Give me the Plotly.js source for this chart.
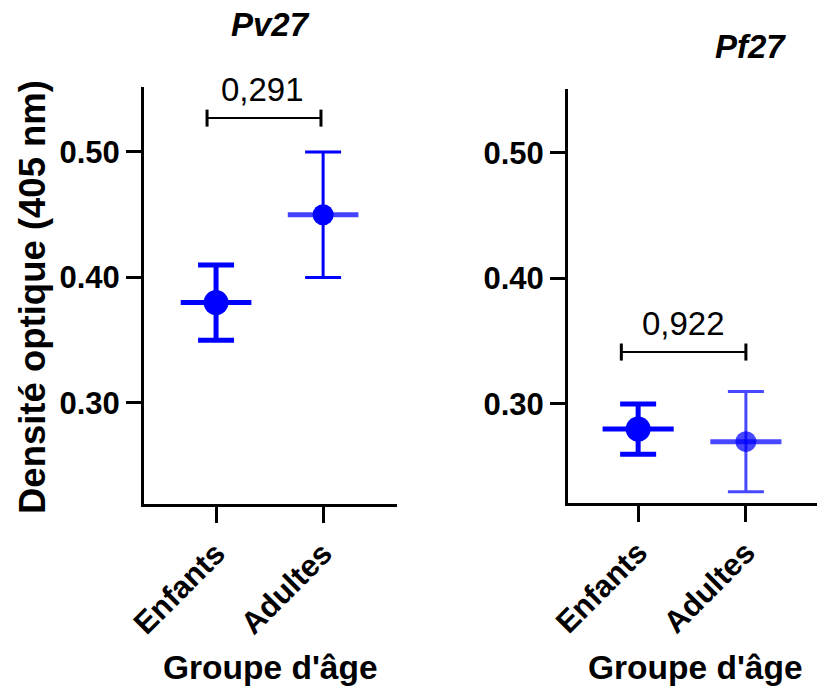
<!DOCTYPE html>
<html>
<head>
<meta charset="utf-8">
<script src="https://cdn.plot.ly/plotly-3.0.1.min.js"></script>
<style>html,body{margin:0;padding:0;background:#fff;}#chart{width:817px;height:692px;}</style>
</head>
<body>
<div id="chart"></div>
<script>
// ---- data ----
const groups = ['Enfants', 'Adultes'];
const pv27Mean = [0.38, 0.45];
const pv27Low  = [0.35, 0.40];
const pv27High = [0.41, 0.50];
const pf27Mean = [0.28, 0.27];
const pf27Low  = [0.26, 0.23];
const pf27High = [0.30, 0.31];
const panelTitles = ['Pv27', 'Pf27'];
const pValues = ['0,291', '0,922'];
const bracketLevels = [0.527, 0.3414];
const yTicks = [0.30, 0.40, 0.50];
const yTitle = 'Densité optique (405 nm)';
const xTitle = "Groupe d'âge";

const FONT = 'Arial, "Liberation Sans", sans-serif';
const idx = groups.map((g, i) => i);

function makeTrace(means, lows, highs, i, xa, ya, style) {
  return {
    type: 'scatter', mode: 'markers',
    x: [idx[i]], y: [means[i]],
    xaxis: xa, yaxis: ya,
    marker: {color: style.marker, size: style.size, line: {width: 0}},
    error_y: {type: 'data', symmetric: false,
      array: [highs[i] - means[i]], arrayminus: [means[i] - lows[i]],
      color: style.ebar, thickness: style.ethick, width: 18},
    error_x: {type: 'constant', value: style.meanHalf, color: style.meanColor,
      thickness: 5, width: 0},
    showlegend: false, hoverinfo: 'skip'
  };
}

const dark = {marker: '#0000ff', size: 25, ebar: '#0000ff', ethick: 5, meanHalf: 0.33, meanColor: '#0000ff'};
const adLeft = {marker: '#0000ff', size: 21, ebar: '#0000ff', ethick: 3, meanHalf: 0.33, meanColor: '#4444ff'};
const adRight = {marker: 'rgba(0,0,255,0.72)', size: 21, ebar: 'rgba(0,0,255,0.72)', ethick: 3, meanHalf: 0.33, meanColor: 'rgba(0,0,255,0.72)'};

const data = [
  makeTrace(pv27Mean, pv27Low, pv27High, 0, 'x', 'y', dark),
  makeTrace(pv27Mean, pv27Low, pv27High, 1, 'x', 'y', adLeft),
  makeTrace(pf27Mean, pf27Low, pf27High, 0, 'x2', 'y2', dark),
  makeTrace(pf27Mean, pf27Low, pf27High, 1, 'x2', 'y2', adRight)
];

const xBase = {
  tickmode: 'array', tickvals: idx, ticktext: groups, tickangle: -45,
  showgrid: false, zeroline: false, showline: true, linecolor: '#000', linewidth: 3,
  ticks: 'outside', ticklen: 16, tickwidth: 3, tickcolor: '#000',
  tickfont: {family: FONT, size: 31, color: '#000', weight: 'bold'}
};
const yBase = {
  tickmode: 'array', tickvals: yTicks, tickformat: '.2f',
  showgrid: false, zeroline: false, showline: true, linecolor: '#000', linewidth: 3,
  ticks: 'outside', ticklen: 15, tickwidth: 3, tickcolor: '#000',
  tickfont: {family: FONT, size: 31, color: '#000', weight: 'bold'}
};

function bracket(xa, ya, x0, x1, yl) {
  const h = 0.0068;
  const ln = {color: '#000', width: 2};
  return [
    {type: 'line', xref: xa, yref: ya, x0: x0, x1: x1, y0: yl, y1: yl, line: ln},
    {type: 'line', xref: xa, yref: ya, x0: x0, x1: x0, y0: yl - h, y1: yl + h, line: {color: '#000', width: 3}},
    {type: 'line', xref: xa, yref: ya, x0: x1, x1: x1, y0: yl - h, y1: yl + h, line: {color: '#000', width: 3}}
  ];
}

const layout = {
  width: 817, height: 692,
  margin: {l: 0, r: 0, t: 0, b: 0},
  paper_bgcolor: '#fff', plot_bgcolor: 'rgba(0,0,0,0)',
  xaxis: Object.assign({}, xBase, {domain: [0.17625, 0.48592], range: [-0.673, 1.69], anchor: 'y'}),
  yaxis: Object.assign({}, yBase, {domain: [0.27168, 0.87428], range: [0.2195, 0.5518], anchor: 'x'}),
  xaxis2: Object.assign({}, xBase, {domain: [0.69523, 1], range: [-0.651, 1.66], anchor: 'y2'}),
  yaxis2: Object.assign({}, yBase, {domain: [0.27312, 0.87139], range: [0.2211, 0.551], anchor: 'x2'}),
  shapes: [].concat(
    bracket('x', 'y', -0.084, 0.98, bracketLevels[0]),
    bracket('x2', 'y2', -0.156, 1.0, bracketLevels[1])
  ),
  annotations: [
    {xref: 'x', yref: 'y', x: 0.43, y: bracketLevels[0], yanchor: 'bottom', yshift: 8, showarrow: false,
     text: pValues[0], font: {family: FONT, size: 33, color: '#000'}},
    {xref: 'x2', yref: 'y2', x: 0.42, y: bracketLevels[1], yanchor: 'bottom', yshift: 8, showarrow: false,
     text: pValues[1], font: {family: FONT, size: 33, color: '#000'}},
    {xref: 'paper', yref: 'paper', x: 0.3305, y: 0.9653, xanchor: 'center', yanchor: 'middle', showarrow: false,
     text: '<b><i>' + panelTitles[0] + '</i></b>', font: {family: FONT, size: 33, color: '#000'}},
    {xref: 'paper', yref: 'paper', x: 0.9192, y: 0.9335, xanchor: 'center', yanchor: 'middle', showarrow: false,
     text: '<b><i>' + panelTitles[1] + '</i></b>', font: {family: FONT, size: 33, color: '#000'}},
    {xref: 'paper', yref: 'paper', x: 0.0392, y: 0.5708, xanchor: 'center', yanchor: 'middle', showarrow: false,
     textangle: -90, text: '<b>' + yTitle + '</b>', font: {family: FONT, size: 36.5, color: '#000'}},
    {xref: 'paper', yref: 'paper', x: 0.3305, y: 0.0347, xanchor: 'center', yanchor: 'middle', showarrow: false,
     text: '<b>' + xTitle + '</b>', font: {family: FONT, size: 33.5, color: '#000'}},
    {xref: 'paper', yref: 'paper', x: 0.8507, y: 0.0347, xanchor: 'center', yanchor: 'middle', showarrow: false,
     text: '<b>' + xTitle + '</b>', font: {family: FONT, size: 33.5, color: '#000'}}
  ]
};

Plotly.newPlot('chart', data, layout, {staticPlot: true, displayModeBar: false});
</script>
</body>
</html>
